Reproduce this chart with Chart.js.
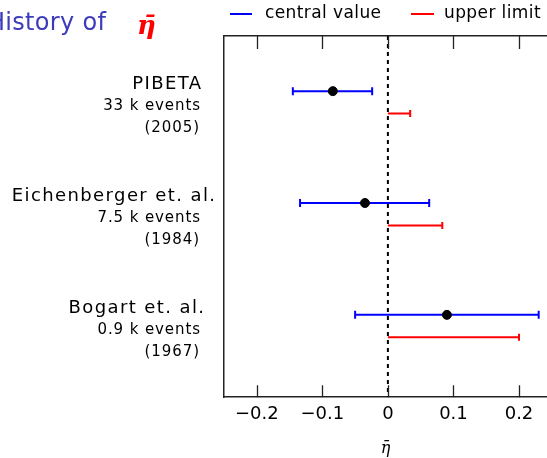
<!DOCTYPE html>
<html>
<head>
<meta charset="utf-8">
<script src="https://cdn.jsdelivr.net/npm/chart.js@4"></script>
<style>
  html, body { margin: 0; padding: 0; background: #fff; overflow: hidden; }
  #wrap { width: 547px; height: 458px; }
</style>
</head>
<body>
<div id="wrap"><canvas id="etaChart"></canvas></div>
<script>
// experiments, top to bottom
const experiments = ['PIBETA', 'Eichenberger et. al.', 'Bogart et. al.'];
const eventCounts = ['33 k events', '7.5 k events', '0.9 k events'];
const years = ['(2005)', '(1984)', '(1967)'];

// central value with its error bar, and the upper limit (all in eta-bar)
const centralValue = [-0.084, -0.035, 0.090];
const errorLow = [-0.145, -0.134, -0.050];
const errorHigh = [-0.024, 0.063, 0.230];
const upperLimit = [0.034, 0.083, 0.200];

const xTicks = [-0.2, -0.1, 0, 0.1, 0.2];

const legendLabels = ['central value', 'upper limit'];

const BLUE = '#0000ff';
const RED = '#ff0000';
const yMin = 0.507, yMax = 3.736;   // rows sit at 1, 2, 3
const limitOffset = 0.2;            // red bar drawn a bit below the blue one

const datasets = [];

// blue error bars
experiments.forEach((name, i) => {
  datasets.push({
    label: 'central ' + name,
    data: [{ x: errorLow[i], y: i + 1 }, { x: errorHigh[i], y: i + 1 }],
    borderColor: BLUE,
    borderWidth: 2,
    pointStyle: 'line',
    rotation: 90,
    pointRadius: 4,
    pointBorderWidth: 2,
    pointBorderColor: BLUE,
    order: 2
  });
});

// red upper limits, cap only at the far end
experiments.forEach((name, i) => {
  datasets.push({
    label: 'limit ' + name,
    data: [{ x: 0, y: i + 1 + limitOffset }, { x: upperLimit[i], y: i + 1 + limitOffset }],
    borderColor: RED,
    borderWidth: 2,
    pointStyle: 'line',
    rotation: 90,
    pointRadius: ctx => ctx.dataIndex === 1 ? 3.5 : 0,
    pointBorderWidth: 2,
    pointBorderColor: RED,
    order: 2
  });
});

// central points
datasets.push({
  label: 'points',
  data: centralValue.map((v, i) => ({ x: v, y: i + 1 })),
  showLine: false,
  pointStyle: 'circle',
  pointRadius: 4.5,
  pointBackgroundColor: '#000',
  pointBorderColor: '#000',
  order: 1
});

// dashed zero line
datasets.push({
  label: 'zero',
  data: [{ x: 0, y: yMin }, { x: 0, y: yMax }],
  borderColor: '#000',
  borderWidth: 2,
  borderDash: [4, 4],
  pointRadius: 0,
  order: 0
});

// ticks pointing inwards, labels on the left, title and legend
const decorations = {
  id: 'decorations',
  afterDraw(chart) {
    const { ctx, chartArea, scales } = chart;
    const x = scales.x, y = scales.y;
    ctx.save();

    ctx.strokeStyle = '#222';
    ctx.lineWidth = 1.3;
    xTicks.forEach(v => {
      const px = Math.round(x.getPixelForValue(v)) + 0.5;
      ctx.beginPath();
      ctx.moveTo(px, chartArea.bottom);
      ctx.lineTo(px, chartArea.bottom - 12);
      ctx.moveTo(px, chartArea.top);
      ctx.lineTo(px, chartArea.top + 13);
      ctx.stroke();
    });

    ctx.fillStyle = '#000';
    ctx.textAlign = 'right';
    ctx.textBaseline = 'middle';
    const nameRight = [201, 215, 204];
    experiments.forEach((name, i) => {
      const py = y.getPixelForValue(i + 1);
      ctx.font = '18px "DejaVu Sans"';
      ctx.letterSpacing = '1.4px';
      ctx.fillText(name, nameRight[i] + 1.4, py - 7);
      ctx.font = '15px "DejaVu Sans"';
      ctx.letterSpacing = '0.9px';
      ctx.fillText(eventCounts[i], 200.9, py + 15);
      ctx.fillText(years[i], 199.9, py + 37);
    });

    // title
    ctx.textAlign = 'left';
    ctx.letterSpacing = '0.3px';
    ctx.font = '24px "DejaVu Sans"';
    ctx.fillStyle = '#3b3bbb';
    ctx.fillText('History of', -13, 24);
    ctx.letterSpacing = '0px';
    ctx.font = 'italic bold 26px "DejaVu Serif"';
    ctx.fillStyle = RED;
    ctx.fillText('\u03b7\u0304', 137, 27);

    // legend
    const items = [[230, 252, 265, BLUE], [411, 434, 444, RED]];
    ctx.font = '17px "DejaVu Sans"';
    ctx.letterSpacing = '0.4px';
    ctx.lineWidth = 2;
    items.forEach((it, i) => {
      ctx.strokeStyle = it[3];
      ctx.beginPath();
      ctx.moveTo(it[0], 14);
      ctx.lineTo(it[1], 14);
      ctx.stroke();
      ctx.fillStyle = '#000';
      ctx.fillText(legendLabels[i], it[2], 14);
    });
    ctx.restore();
  }
};

new Chart(document.getElementById('etaChart'), {
  type: 'line',
  data: { datasets: datasets },
  options: {
    responsive: true,
    maintainAspectRatio: false,
    animation: false,
    layout: { autoPadding: false, padding: { left: 224, top: 36, right: 0, bottom: 0 } },
    scales: {
      x: {
        type: 'linear',
        position: 'bottom',
        min: -0.25,
        max: 0.2427,
        afterBuildTicks: scale => { scale.ticks = xTicks.map(v => ({ value: v })); },
        grid: { display: false, drawTicks: false },
        border: { display: true, color: '#222', width: 1.5 },
        ticks: {
          padding: 6,
          color: '#000',
          font: { family: 'DejaVu Sans', size: 18 },
          callback: v => v === 0 ? '0' : (v < 0 ? '\u2212' + Math.abs(v).toFixed(1) : v.toFixed(1))
        },
        title: {
          display: true,
          text: '\u03b7\u0304',
          color: '#000',
          font: { family: 'DejaVu Serif', size: 16, style: 'italic' },
          padding: { top: 8, bottom: 0 }
        }
      },
      xTop: {
        type: 'linear',
        position: 'top',
        min: -0.25,
        max: 0.2427,
        grid: { display: false, drawTicks: false },
        border: { display: true, color: '#222', width: 1.5 },
        ticks: { display: false }
      },
      y: {
        type: 'linear',
        reverse: true,
        min: yMin,
        max: yMax,
        grid: { display: false, drawTicks: false },
        border: { display: true, color: '#222', width: 1.5 },
        ticks: { display: false }
      }
    },
    plugins: {
      legend: { display: false },
      tooltip: { enabled: false }
    }
  },
  plugins: [decorations]
});
</script>
</body>
</html>
